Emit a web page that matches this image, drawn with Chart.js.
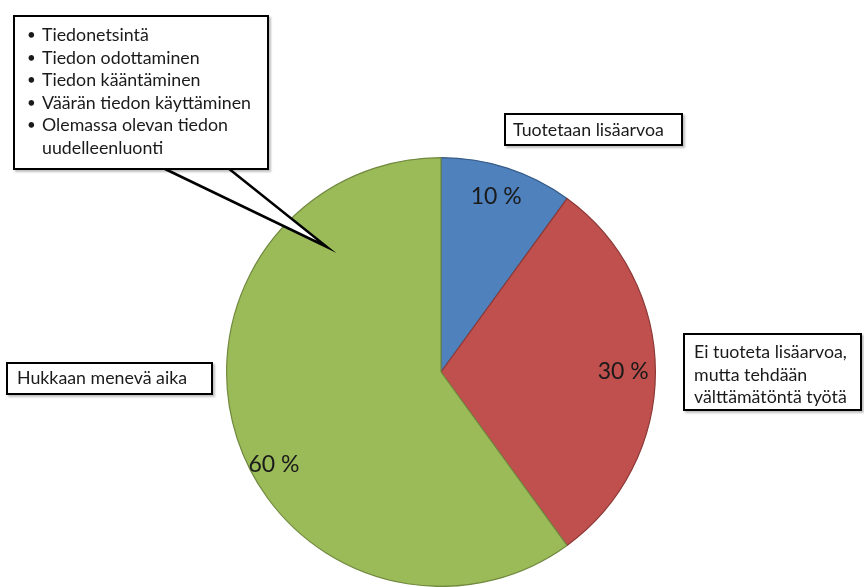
<!DOCTYPE html>
<html>
<head>
<meta charset="utf-8">
<script src="https://cdn.jsdelivr.net/npm/chart.js@4"></script>
<style>
  html, body { margin: 0; padding: 0; background: #fff; }
  #wrap { position: relative; width: 864px; height: 587px; overflow: hidden; font-family: Lato, "Open Sans", sans-serif; color: #1a1a1a; }
  #chart { position: absolute; left: 0; top: 0; }
  .box { position: absolute; background: #fff; border: 2.5px solid #000; box-sizing: border-box; box-shadow: 2px 2px 2px rgba(0,0,0,0.25); }
  .txt { position: absolute; font-size: 17.8px; line-height: 22.6px; white-space: nowrap; }
  .item { position: relative; padding-left: 12px; }
  .item::before { content: "•"; position: absolute; left: -3px; top: 0; font-size: 15px; }
</style>
</head>
<body>
<div id="wrap">
  <canvas id="chart" width="864" height="587"></canvas>
  <div class="box" style="left:13px;top:15px;width:256px;height:155px;"></div>
  <div class="txt" id="bullets" style="left:30px;top:23px;"></div>
  <div class="box" style="left:504px;top:113px;width:179px;height:33px;"></div>
  <div class="txt" id="lbl-0" style="left:513px;top:118px;"></div>
  <div class="box" style="left:683px;top:333px;width:179px;height:78px;"></div>
  <div class="txt" id="lbl-1" style="left:694px;top:340px;"></div>
  <div class="box" style="left:6px;top:362px;width:207px;height:33px;"></div>
  <div class="txt" id="lbl-2" style="left:17px;top:366px;"></div>
</div>
<script>
  const categories = ['Tuotetaan lisäarvoa', 'Ei tuoteta lisäarvoa,\nmutta tehdään\nvälttämätöntä työtä', 'Hukkaan menevä aika'];
  const shares = [10, 30, 60];
  const wasteItems = ['Tiedonetsintä', 'Tiedon odottaminen', 'Tiedon kääntäminen', 'Väärän tiedon käyttäminen', 'Olemassa olevan tiedon\nuudelleenluonti'];

  const colors = ['#4f81bd', '#c0504d', '#9bbb59'];
  const edges = ['#385d8a', '#8c3836', '#71893f'];

  categories.forEach((c, i) => {
    document.getElementById('lbl-' + i).innerHTML = c.split('\n').join('<br>');
  });
  document.getElementById('bullets').innerHTML = wasteItems
    .map((t) => `<div class="item">${t.split('\n').join('<br>')}</div>`)
    .join('');

  // callout tail, drawn behind the html boxes
  const calloutTail = {
    id: 'calloutTail',
    afterDatasetsDraw(chart, args, opts) {
      const ctx = chart.ctx;
      const [a, tip, b] = opts.points;
      ctx.save();
      ctx.beginPath();
      ctx.moveTo(a[0], a[1]);
      ctx.lineTo(tip[0], tip[1]);
      ctx.lineTo(b[0], b[1]);
      ctx.closePath();
      ctx.fillStyle = '#fff';
      ctx.fill();
      ctx.beginPath();
      ctx.moveTo(a[0], a[1]);
      ctx.lineTo(tip[0], tip[1]);
      ctx.lineTo(b[0], b[1]);
      ctx.lineWidth = 2.5;
      ctx.strokeStyle = '#000';
      ctx.lineJoin = 'miter';
      ctx.stroke();
      ctx.restore();
    },
  };

  const pctLabels = {
    id: 'pctLabels',
    afterDatasetsDraw(chart, args, opts) {
      const ctx = chart.ctx;
      const meta = chart.getDatasetMeta(0);
      ctx.save();
      ctx.font = '23px Lato, "Open Sans", sans-serif';
      ctx.fillStyle = '#1a1a1a';
      ctx.textAlign = 'center';
      ctx.textBaseline = 'middle';
      meta.data.forEach((arc, i) => {
        const mid = (arc.startAngle + arc.endAngle) / 2 + opts.angleShift[i];
        const r = arc.outerRadius * opts.radius[i];
        ctx.fillText(shares[i] + ' %', arc.x + Math.cos(mid) * r, arc.y + Math.sin(mid) * r);
      });
      ctx.restore();
    },
  };

  new Chart(document.getElementById('chart'), {
    type: 'pie',
    data: {
      labels: categories,
      datasets: [{
        data: shares,
        backgroundColor: colors,
        borderColor: edges,
        borderWidth: 1.2,
      }],
    },
    options: {
      responsive: false,
      animation: false,
      layout: { padding: { left: 225, right: 207, top: 157, bottom: 0 } },
      plugins: {
        legend: { display: false },
        tooltip: { enabled: false },
        pctLabels: { angleShift: [-0.01, 0, -0.19], radius: [0.86, 0.85, 0.89] },
        calloutTail: { points: [[163, 168], [327, 247], [228, 168]] },
      },
    },
    plugins: [pctLabels, calloutTail],
  });
</script>
</body>
</html>
